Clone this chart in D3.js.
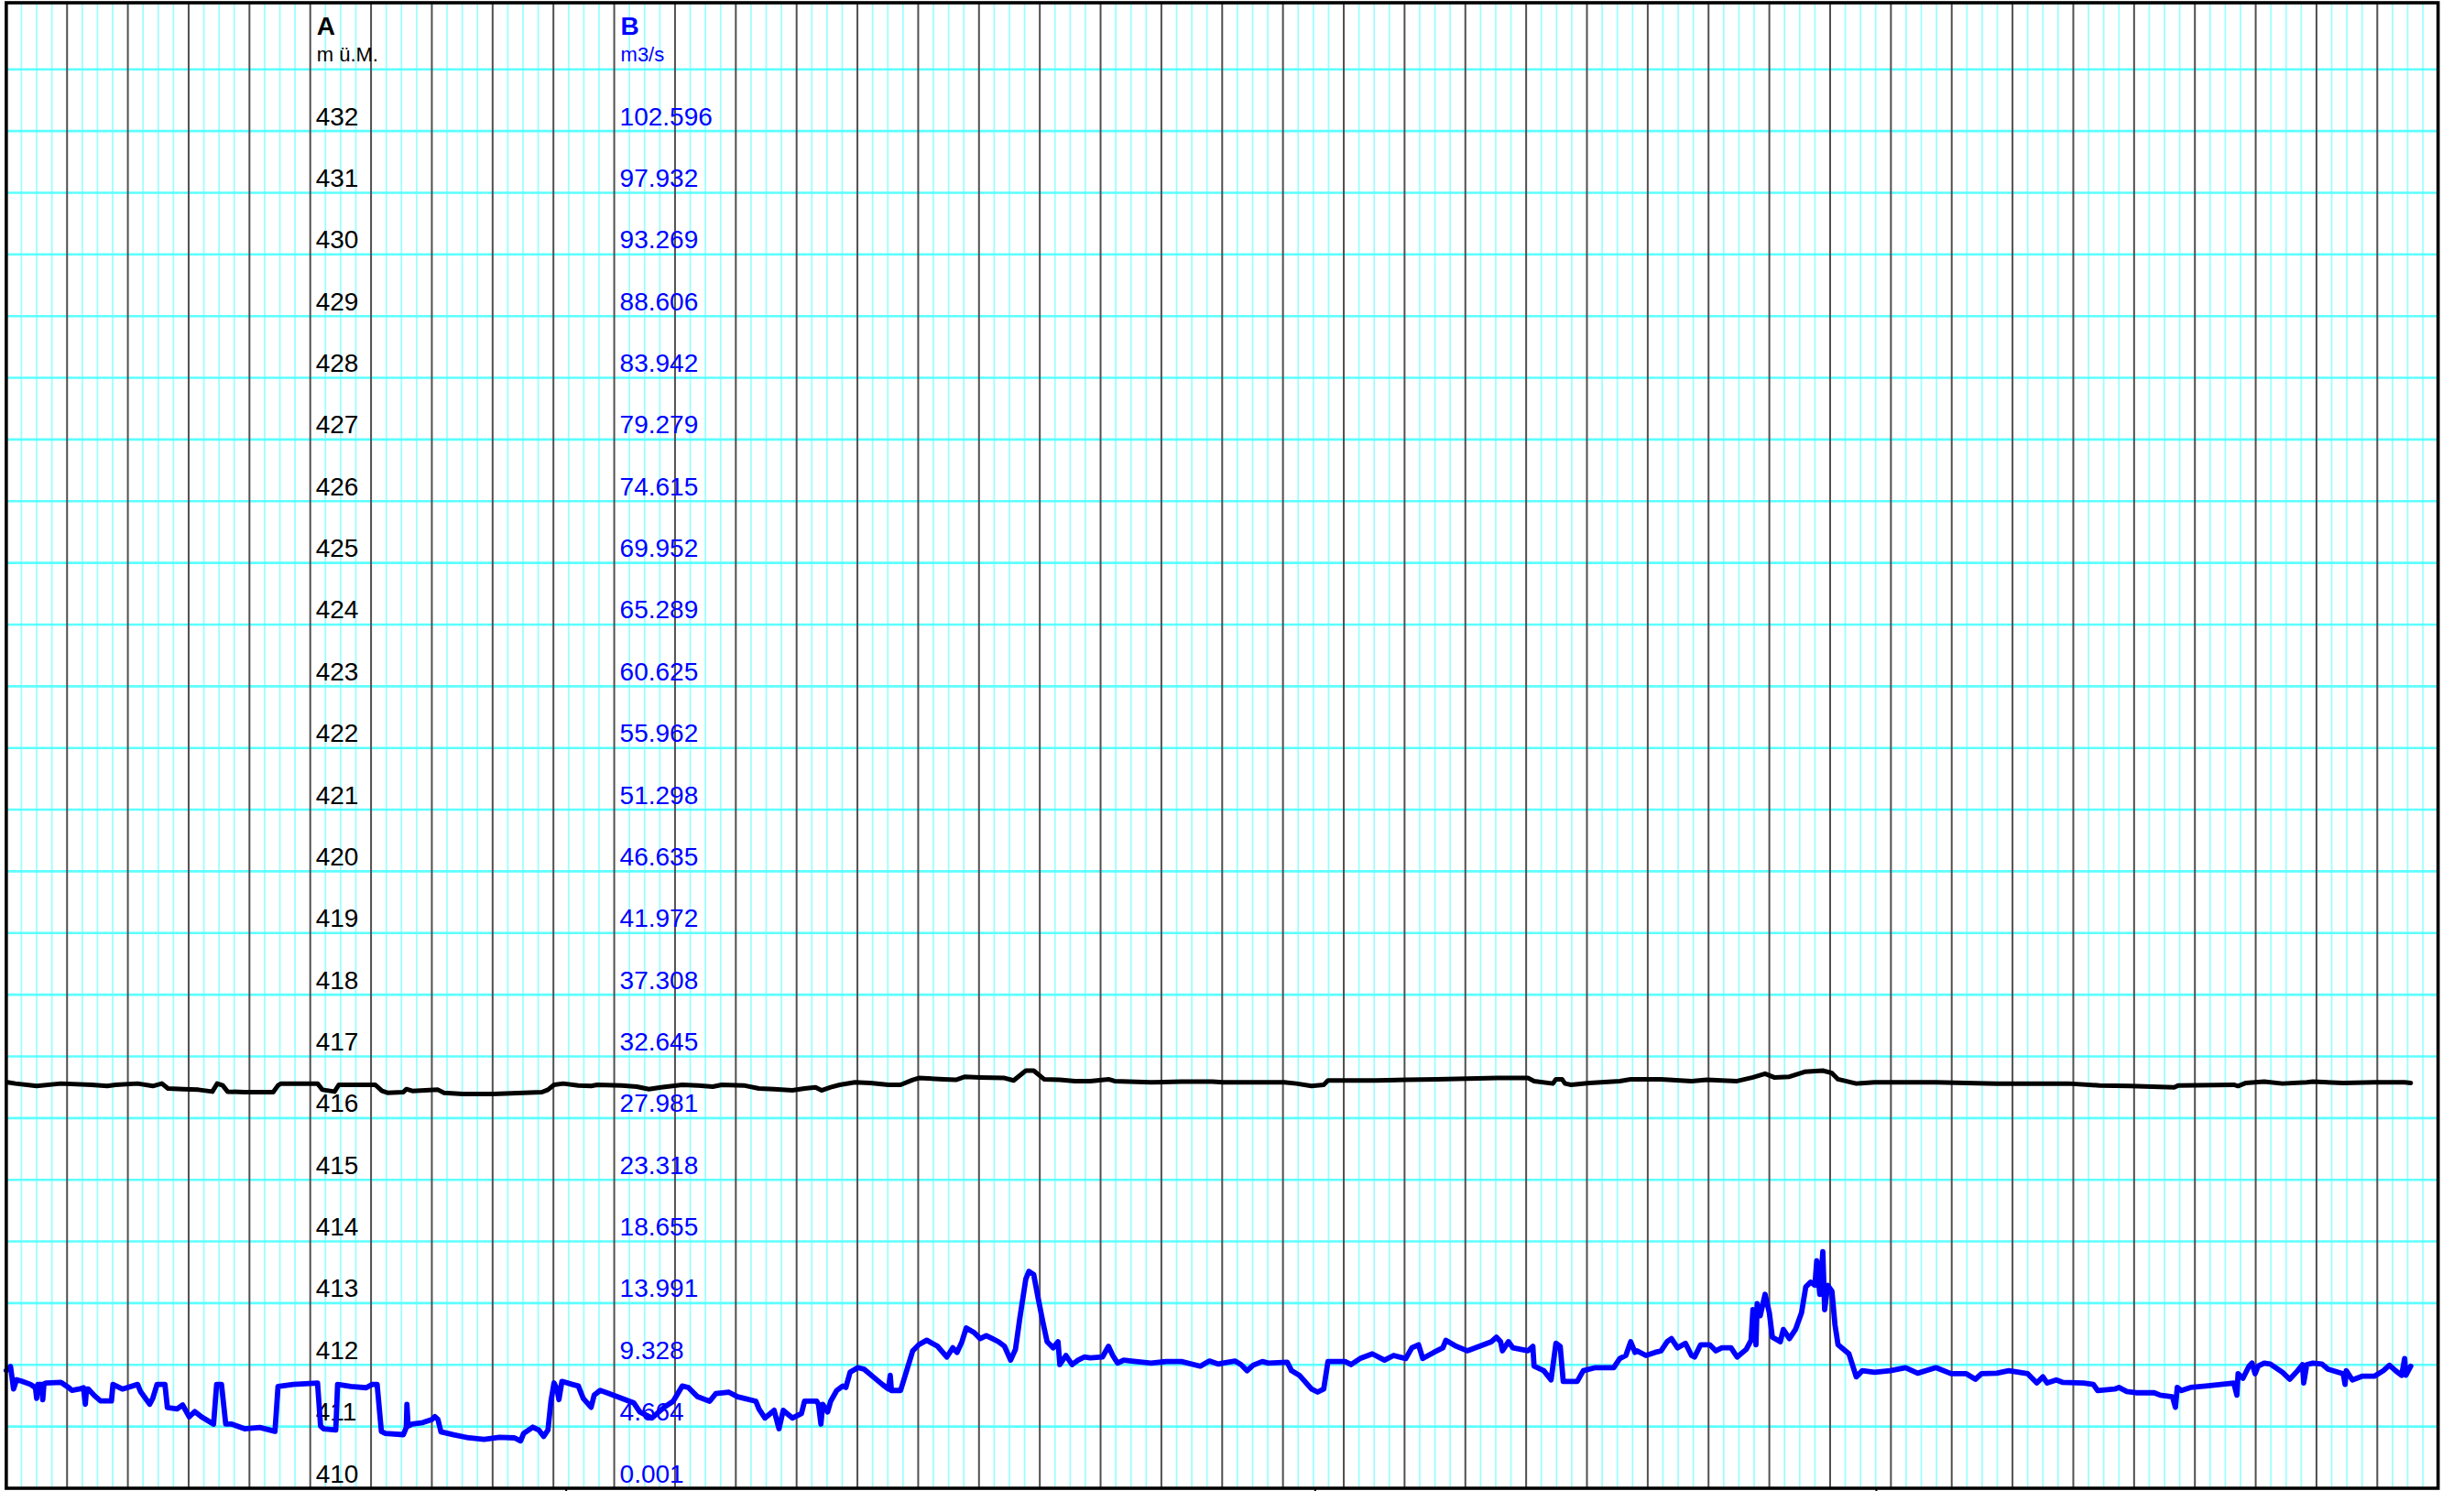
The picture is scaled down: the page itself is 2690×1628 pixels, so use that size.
<!DOCTYPE html>
<html><head><meta charset="utf-8">
<script src="https://cdn.jsdelivr.net/npm/d3@7/dist/d3.min.js"></script>
<style>html,body{margin:0;padding:0;background:#fff;}svg{display:block;}</style>
</head><body>
<script>
// ---- data ----
const aTicks = [410,411,412,413,414,415,416,417,418,419,420,421,422,423,424,425,426,427,428,429,430,431,432];
const bTicks = [0.001,4.664,9.328,13.991,18.655,23.318,27.981,32.645,37.308,41.972,46.635,51.298,55.962,60.625,65.289,69.952,74.615,79.279,83.942,88.606,93.269,97.932,102.596];
const dateTicks = [9.21, 21.53, 30.76];

// water level A (m ü.M.), time in days
const levelT = [0.02,0.15,0.50,0.90,1.40,1.66,1.80,2.16,2.41,2.56,2.66,2.91,3.16,3.39,3.47,3.56,3.64,3.92,4.39,4.47,4.52,5.12,5.20,5.40,5.47,6.07,6.18,6.27,6.53,6.58,6.68,
 7.10,7.20,7.51,8.01,8.51,8.81,8.91,9.01,9.16,9.41,9.62,9.72,10.12,10.37,10.57,10.77,11.12,11.37,11.62,11.77,12.13,12.38,12.63,12.93,13.13,
 13.31,13.41,13.56,13.71,13.96,14.21,14.51,14.71,14.91,15.01,15.42,15.62,15.77,16.02,16.42,16.57,16.77,16.90,17.07,17.33,17.58,17.83,18.13,18.23,18.83,19.33,19.84,
 20.01,20.51,21.02,21.22,21.47,21.67,21.74,22.02,22.52,23.02,23.53,24.03,24.53,25.03,25.13,25.44,25.49,25.59,25.64,25.74,26.04,26.54,26.72,
 27.22,27.72,27.97,28.47,28.73,28.93,29.08,29.33,29.58,29.88,30.03,30.13,30.43,30.73,31.24,31.74,32.24,32.74,33.50,
 33.92,34.43,34.93,35.66,35.73,36.64,36.71,36.84,37.14,37.44,37.84,37.94,38.44,38.95,39.45,39.55];
const levelA = [416.58,416.56,416.52,416.56,416.54,416.52,416.54,416.56,416.52,416.56,416.48,416.47,416.46,416.43,416.56,416.53,416.43,416.42,416.42,416.53,416.56,416.56,416.46,416.43,416.54,416.54,416.44,416.41,416.42,416.47,416.44,
 416.46,416.41,416.39,416.39,416.41,416.42,416.46,416.54,416.56,416.53,416.52,416.54,416.53,416.51,416.47,416.50,416.54,416.53,416.51,416.54,416.53,416.48,416.47,416.45,416.48,
 416.50,416.45,416.50,416.54,416.58,416.57,416.54,416.54,416.62,416.65,416.63,416.62,416.67,416.66,416.65,416.61,416.77,416.77,416.63,416.62,416.60,416.60,416.63,416.60,416.58,416.59,416.59,
 416.58,416.58,416.58,416.56,416.52,416.54,416.61,416.61,416.61,416.62,416.63,416.64,416.65,416.65,416.60,416.56,416.63,416.63,416.56,416.54,416.57,416.60,416.63,
 416.63,416.60,416.62,416.60,416.66,416.72,416.66,416.67,416.75,416.77,416.73,416.63,416.56,416.58,416.58,416.58,416.57,416.56,416.56,
 416.56,416.53,416.52,416.50,416.53,416.54,416.52,416.57,416.59,416.56,416.58,416.59,416.57,416.58,416.58,416.57];

// discharge B (m3/s), time in days
const flowT = [0.00,0.07,0.12,0.17,0.25,0.40,0.48,0.50,0.52,0.58,0.60,0.62,0.65,0.90,1.03,1.08,1.20,1.27,1.30,1.32,1.35,1.45,1.55,1.73,1.755,1.91,2.16,2.21,2.36,2.41,2.48,2.61,2.65,2.81,2.90,3.01,3.10,3.21,3.41,3.46,3.54,3.61,3.71,3.92,4.17,4.42,4.47,4.72,5.12,5.17,5.22,5.42,5.45,5.67,5.92,6.02,6.10,6.17,6.23,6.53,6.58,6.59,6.61,6.68,
 6.85,7.00,7.05,7.10,7.15,7.36,7.61,7.86,8.11,8.36,8.46,8.51,8.66,8.76,8.84,8.91,8.96,9.01,9.06,9.09,9.14,9.31,9.41,9.49,9.62,9.67,9.77,9.92,10.12,10.32,10.42,10.62,10.82,10.97,11.12,11.22,11.37,11.57,11.67,11.88,12.03,12.33,12.38,12.48,12.63,12.71,12.78,12.93,13.08,13.13,13.33,
 13.36,13.40,13.43,13.51,13.56,13.66,13.76,13.81,13.88,14.01,14.11,14.26,14.41,14.51,14.54,14.56,14.71,14.81,14.91,15.01,15.14,15.32,15.47,15.57,15.64,15.72,15.79,15.92,16.02,16.12,16.22,16.32,16.42,16.52,16.60,16.67,16.77,16.82,16.90,16.97,17.05,17.12,17.22,17.30,17.33,17.43,17.53,17.63,17.73,17.83,18.03,18.13,18.20,18.28,18.38,18.58,18.83,19.08,19.33,19.64,19.79,19.94,
 20.01,20.21,20.31,20.41,20.51,20.66,20.76,21.07,21.14,21.27,21.47,21.57,21.67,21.74,22.02,22.12,22.27,22.47,22.67,22.82,23.02,23.12,23.23,23.30,23.48,23.63,23.68,23.83,24.03,24.23,24.43,24.51,24.58,24.61,24.71,24.78,25.03,25.11,25.13,25.29,25.41,25.49,25.56,25.61,25.84,25.94,26.14,26.44,26.54,26.64,26.72,26.79,
 26.82,26.97,27.12,27.22,27.32,27.39,27.49,27.62,27.72,27.77,27.87,28.02,28.12,28.22,28.37,28.47,28.62,28.70,28.73,28.78,28.80,28.85,28.93,29.00,29.05,29.18,29.23,29.33,29.43,29.53,29.60,29.68,29.75,29.78,29.83,29.88,29.91,29.96,30.03,30.08,30.13,30.31,30.43,30.53,30.73,30.99,31.24,31.44,31.74,31.99,32.24,32.39,32.49,32.74,32.94,33.25,33.40,33.50,
 33.57,33.72,33.82,34.17,34.33,34.40,34.68,34.75,34.88,35.03,35.33,35.43,35.63,35.68,35.71,35.78,35.93,36.18,36.43,36.64,36.69,36.71,36.79,36.89,36.94,36.99,37.04,37.14,37.24,37.44,37.56,37.69,37.77,37.79,37.84,37.94,38.09,38.19,38.44,38.47,38.49,38.59,38.75,38.95,39.10,39.20,39.30,39.40,39.45,39.47,39.55];
const flowB = [8.9,9.2,7.5,8.2,8.1,7.85,7.6,6.8,7.85,7.85,6.7,7.9,7.95,8.0,7.6,7.4,7.5,7.6,6.35,7.5,7.5,7.0,6.6,6.6,7.85,7.5,7.85,7.3,6.35,6.8,7.85,7.85,6.1,6.0,6.3,5.4,5.8,5.4,4.85,7.85,7.85,4.85,4.85,4.5,4.6,4.3,7.7,7.85,7.95,4.7,4.5,4.4,7.85,7.7,7.6,7.85,7.85,4.3,4.15,4.05,4.6,6.35,4.7,4.85,
 4.96,5.19,5.42,5.2,4.27,4.04,3.81,3.7,3.85,3.81,3.58,4.15,4.62,4.4,3.92,4.4,6.6,7.96,7.5,6.7,8.08,7.85,7.73,6.8,6.12,7.04,7.4,7.15,6.8,6.46,5.77,5.31,6.12,6.58,7.73,7.62,6.92,6.58,7.15,7.27,6.92,6.58,6.0,5.31,5.89,4.5,5.89,5.31,5.65,6.58,6.58,
 6.35,4.85,6.35,5.77,6.58,7.39,7.73,7.62,8.77,9.12,9.00,8.42,7.85,7.50,8.54,7.39,7.39,8.89,10.39,10.85,11.19,10.73,9.92,10.62,10.27,11.08,12.12,11.77,11.31,11.54,11.31,11.08,10.73,9.69,10.50,12.81,15.81,16.39,16.16,14.43,12.58,11.08,10.62,11.08,9.35,10.04,9.35,9.69,9.92,9.86,9.92,10.73,10.04,9.46,9.69,9.58,9.46,9.58,9.58,9.23,9.62,9.39,
 9.46,9.62,9.35,8.89,9.30,9.58,9.46,9.53,8.89,8.54,7.50,7.27,7.50,9.58,9.58,9.35,9.81,10.16,9.69,10.04,9.81,10.62,10.85,9.81,10.27,10.62,11.19,10.78,10.39,10.73,11.08,11.42,11.08,10.39,11.08,10.62,10.39,10.73,9.23,8.89,8.19,10.96,10.73,8.08,8.08,8.89,9.12,9.12,9.81,10.04,11.08,10.27,
 10.39,10.04,10.27,10.39,11.08,11.31,10.62,10.96,10.04,9.92,10.85,10.85,10.39,10.62,10.62,9.92,10.50,11.19,13.50,10.85,13.96,13.04,14.66,13.27,11.42,11.08,12.00,11.31,12.00,13.27,15.23,15.58,15.35,17.19,14.66,17.89,13.50,15.35,14.89,12.35,10.85,10.16,8.42,8.89,8.77,8.89,9.12,8.70,9.12,8.66,8.66,8.24,8.66,8.70,8.89,8.66,7.96,8.42,
 7.96,8.19,8.01,7.96,7.85,7.39,7.50,7.62,7.32,7.22,7.22,7.04,6.92,6.12,7.62,7.39,7.62,7.73,7.85,7.96,7.04,8.66,8.31,9.23,9.46,8.66,9.23,9.46,9.39,8.77,8.24,8.89,9.35,7.96,9.35,9.46,9.39,9.00,8.66,7.85,8.89,8.19,8.47,8.47,8.89,9.30,8.89,8.54,9.81,8.54,9.23];

// ---- drawing ----
const W = 2690, H = 1628;
const x = d3.scaleLinear().domain([0, 40]).range([6.85, 2661.7]);
const yA = d3.scaleLinear().domain([410, 434.08]).range([1625, 3]);
const yB = d3.scaleLinear().domain([0.001, 102.596]).range([yA(410), yA(432)]);

const svg = d3.select("body").append("svg").attr("width", W).attr("height", H);
const FONT = "'Liberation Sans', Arial, Helvetica, sans-serif";

const yTop = yA.range()[1], yBot = yA.range()[0];
// minor vertical grid
const minor = d3.range(0, 160).map(i => i / 4).filter(d => d % 1 !== 0);
svg.append("g").selectAll("line").data(minor).join("line")
  .attr("x1", d => x(d)).attr("x2", d => x(d)).attr("y1", yTop).attr("y2", yBot)
  .attr("stroke", "#99ffff").attr("stroke-width", 1.7);
// horizontal grid
svg.append("g").selectAll("line").data(d3.range(411, 434)).join("line")
  .attr("x1", x(0)).attr("x2", x(40)).attr("y1", d => yA(d)).attr("y2", d => yA(d))
  .attr("stroke", "#5cffff").attr("stroke-width", 2.6);
// major vertical grid
svg.append("g").selectAll("line").data(d3.range(1, 40)).join("line")
  .attr("x1", d => x(d)).attr("x2", d => x(d)).attr("y1", yTop).attr("y2", yBot)
  .attr("stroke", "#505050").attr("stroke-width", 2);

// axis A labels
const gA = svg.append("g").attr("transform", `translate(${x(5) + 6},0)`)
  .call(d3.axisRight(yA).tickValues(aTicks).tickSize(0).tickPadding(0).tickFormat(d3.format("d")));
gA.select(".domain").remove();
gA.selectAll("text").attr("x", 0).attr("y", -7).attr("dy", null)
  .attr("text-anchor", "start").attr("fill", "#000")
  .style("font-family", FONT).style("font-size", "28px");

// axis B labels
const gB = svg.append("g").attr("transform", `translate(${x(10) + 6},0)`)
  .call(d3.axisRight(yB).tickValues(bTicks).tickSize(0).tickPadding(0).tickFormat(d3.format(".3f")));
gB.select(".domain").remove();
gB.selectAll("text").attr("x", 0).attr("y", -7).attr("dy", null)
  .attr("text-anchor", "start").attr("fill", "#0000ff")
  .style("font-family", FONT).style("font-size", "28px");

// headers
svg.append("text").attr("x", x(5) + 7).attr("y", 38).text("A")
  .style("font-family", FONT).style("font-size", "28px").style("font-weight", "bold").attr("fill", "#000");
svg.append("text").attr("x", x(5) + 7).attr("y", 67).text("m ü.M.")
  .style("font-family", FONT).style("font-size", "22px").attr("fill", "#000");
svg.append("text").attr("x", x(10) + 7).attr("y", 38).text("B")
  .style("font-family", FONT).style("font-size", "28px").style("font-weight", "bold").attr("fill", "#0000ff");
svg.append("text").attr("x", x(10) + 7).attr("y", 67).text("m3/s")
  .style("font-family", FONT).style("font-size", "22px").attr("fill", "#0000ff");

// series
const level = levelT.map((t, i) => [t, levelA[i]]);
const flow = flowT.map((t, i) => [t, flowB[i]]);
svg.append("path").datum(level)
  .attr("d", d3.line().x(d => x(d[0])).y(d => yA(d[1])))
  .attr("fill", "none").attr("stroke", "#000").attr("stroke-width", 5)
  .attr("stroke-linejoin", "round").attr("stroke-linecap", "round");
svg.append("path").datum(flow)
  .attr("d", d3.line().x(d => x(d[0])).y(d => yB(d[1])))
  .attr("fill", "none").attr("stroke", "#0000ff").attr("stroke-width", 5.8)
  .attr("stroke-linejoin", "round").attr("stroke-linecap", "round");

// frame
svg.append("rect").attr("x", x(0)).attr("y", yTop).attr("width", x(40) - x(0)).attr("height", yBot - yTop)
  .attr("fill", "none").attr("stroke", "#000").attr("stroke-width", 3.6);
// bottom date ticks
svg.append("g").selectAll("line").data(dateTicks).join("line")
  .attr("x1", d => x(d)).attr("x2", d => x(d)).attr("y1", yBot).attr("y2", H)
  .attr("stroke", "#000").attr("stroke-width", 2);
</script>
</body></html>
